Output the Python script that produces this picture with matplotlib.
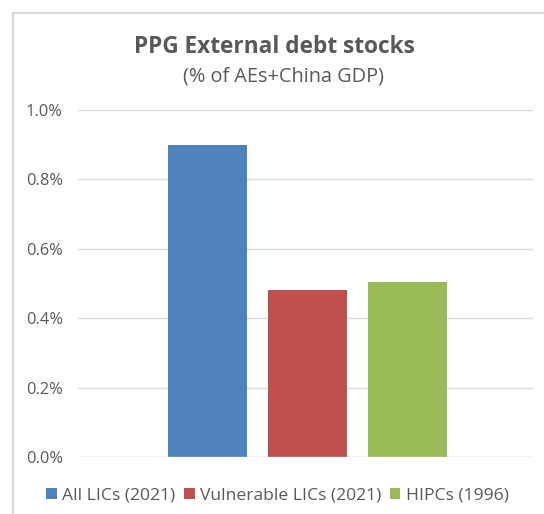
import matplotlib.pyplot as plt
from matplotlib.patches import Rectangle
from matplotlib.ticker import FuncFormatter

labels = ["All LICs (2021)", "Vulnerable LICs (2021)", "HIPCs (1996)"]
values = [0.90, 0.48, 0.505]
colors = ["#4f81bd", "#c0504d", "#9bbb59"]
yticks = [0.0, 0.2, 0.4, 0.6, 0.8, 1.0]

plt.rcParams['font.family'] = ['Open Sans', 'DejaVu Sans']
grey = "#595959"

fig = plt.figure(figsize=(5.44, 5.14), dpi=100)
ax = fig.add_axes([0.1434, 0.1109, 0.8366, 0.6751])

for i in range(len(values)):
    ax.bar(i, values[i], width=0.79, color=colors[i], label=labels[i], zorder=3)

ax.set_xlim(-1.29, 3.26)
ax.set_ylim(0, 1.0)
ax.set_yticks(yticks)
ax.yaxis.set_major_formatter(FuncFormatter(lambda v, p: "%.1f%%" % v))
ax.tick_params(axis='y', length=0, labelsize=11.8, labelcolor=grey, pad=11)
ax.set_xticks([])
ax.grid(axis='y', color="#d9d9d9", linewidth=1, zorder=0)
for s in ax.spines.values():
    s.set_visible(False)
ax.axhline(0, color="#d9d9d9", linewidth=1, zorder=4)

fig.text(0.504, 0.908, "PPG External debt stocks", ha='center', va='center',
         fontsize=16.3, fontweight='bold', color=grey)
fig.text(0.521, 0.852, "(% of AEs+China GDP)", ha='center', va='center',
         fontsize=14.3, color=grey)

fig.legend(loc='center', bbox_to_anchor=(0.510, 0.036), ncol=3, frameon=False,
           fontsize=12.6, handlelength=0.6, handleheight=0.6, handletextpad=0.3,
           columnspacing=0.5, labelcolor=grey)

# surrounding border of the chart box
fig.patches.append(Rectangle((13 / 544, -0.1), 1.2, 1 - 13 / 514 + 0.1,
                             transform=fig.transFigure, fill=False,
                             edgecolor="#d9d9d9", linewidth=1.5))
# tail of a letter from the page text above
fig.text(460 / 544, 1 + 7 / 514, "g", ha='center', va='baseline',
         fontsize=22, family='Liberation Serif', color='black')

fig.savefig("out.png", dpi=100)
